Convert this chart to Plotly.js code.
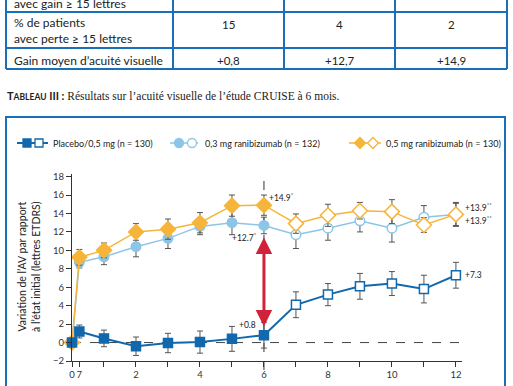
<!DOCTYPE html>
<html>
<head>
<meta charset="utf-8">
<script src="https://cdn.plot.ly/plotly-3.0.1.min.js"></script>
<style>html,body{margin:0;padding:0;background:#fff;}#chart{width:513px;height:386px;}</style>
</head>
<body>
<div id="chart"></div>
<script>
// ---------- data ----------
const months = [0, 0.23, 1, 2, 3, 4, 5, 6, 7, 8, 9, 10, 11, 12];
const xTickVals = [0, 0.23, 1, 2, 3, 4, 5, 6, 7, 8, 9, 10, 11, 12];
const xTickText = ['0', '7', '', '2', '', '4', '', '6', '', '8', '', '10', '', '12'];
const yTickVals = [-2, 0, 2, 4, 6, 8, 10, 12, 14, 16, 18];

const placebo    = [0, 1.2, 0.45, -0.4, -0.05, 0.05, 0.4, 0.8, 4.1, 5.2, 6.1, 6.4, 5.8, 7.3];
const placeboErr = [0, 0.7, 0.9, 1.0, 1.05, 1.2, 1.35, 1.4, 1.4, 1.2, 1.4, 1.3, 1.5, 1.4];
const ran03      = [0, 8.7, 9.3, 10.4, 11.3, 12.6, 13.0, 12.7, 11.7, 12.4, 13.2, 12.4, 13.6, 13.9];
const ran03Err   = [0, 0.6, 0.85, 1.1, 1.1, 0.9, 1.3, 0.9, 1.5, 1.3, 1.2, 1.5, 1.25, 1.3];
const ran05      = [0, 9.25, 10.0, 12.0, 12.3, 13.0, 14.85, 14.9, 12.9, 13.8, 14.3, 14.2, 12.75, 13.9];
const ran05Err   = [0, 0.85, 0.8, 0.9, 1.1, 1.1, 1.15, 1.1, 1.05, 1.2, 0.9, 1.3, 0.8, 1.2];

const seriesNames = ['Placebo/0,5 mg (n = 130)', '0,3 mg ranibizumab (n = 132)', '0,5 mg ranibizumab (n = 130)'];
const m6Labels  = ['+0.8', '+12.7<sup>*</sup>', '+14.9<sup>*</sup>'];
const endLabels = ['+7.3', '+13.9<sup>**</sup>', '+13.9<sup>**</sup>'];
const xTitleParts = ['J0 à M6', 'M6 à M12'];
const yTitle = "Variation de l’AV par rapport<br>à l’état initial (lettres ETDRS)";

const tableTopRow = 'avec gain ≥ 15 lettres';
const tableRowLabels = ['% de patients<br>avec perte ≥ 15 lettres', 'Gain moyen d’acuité visuelle'];
const tablePerte = ['15', '4', '2'];
const tableGain  = ['+0,8', '+12,7', '+14,9'];
const caption = '<span style="font-family:Lato;font-weight:bold;font-size:11px">T<span style="font-size:8.5px">ABLEAU</span> III :</span> Résultats sur l’acuité visuelle de l’étude CRUISE à 6 mois.';

// ---------- style ----------
const W = 513, H = 386;
const px = x => x / W;
const py = y => 1 - y / H;
const cDark = '#1268AC', cLight = '#8DC5E6', cOrange = '#F6B53A', cBorder = '#1A70B8', cRed = '#D0223A';
const colors = [cDark, cLight, cOrange];
const symbols = ['square', 'circle', 'diamond'];
const sizes = [9, 9.5, 11.5];
const widths = [2, 1.5, 1.5];
const lastFilledMonth = 6;
const FONT = 'Lato, "Open Sans", sans-serif';

const values = [placebo, ran03, ran05];
const errs = [placeboErr, ran03Err, ran05Err];

const traces = values.map((v, i) => ({
  x: months, y: v, type: 'scatter', mode: 'lines+markers', name: seriesNames[i],
  cliponaxis: false,
  line: {color: colors[i], width: widths[i]},
  marker: {
    symbol: symbols[i], size: sizes[i],
    color: months.map(m => m <= lastFilledMonth ? colors[i] : '#ffffff'),
    line: {color: colors[i], width: 1.5}
  },
  error_y: {type: 'data', array: errs[i], visible: true, color: '#555', thickness: 1, width: 3}
}));
const data = [traces[1], traces[2], traces[0]];

const shapes = [];
const annotations = [];

// table
const tCols = [6, 173, 284, 395, 507];
const tRows = [12, 48, 69];
tCols.forEach(x => shapes.push({type: 'line', xref: 'paper', yref: 'paper', x0: px(x), x1: px(x), y0: py(-5), y1: py(69), line: {color: cBorder, width: 2}}));
tRows.forEach(y => shapes.push({type: 'line', xref: 'paper', yref: 'paper', x0: px(6), x1: px(507), y0: py(y), y1: py(y), line: {color: cBorder, width: 2}}));
annotations.push({xref: 'paper', yref: 'paper', x: px(12), y: py(3), xanchor: 'left', yanchor: 'middle', showarrow: false, text: tableTopRow, font: {family: FONT, size: 12, color: '#222'}});
annotations.push({xref: 'paper', yref: 'paper', x: px(12), y: py(31), xanchor: 'left', yanchor: 'middle', align: 'left', showarrow: false, text: tableRowLabels[0], font: {family: FONT, size: 12, color: '#222'}});
annotations.push({xref: 'paper', yref: 'paper', x: px(12), y: py(60), xanchor: 'left', yanchor: 'middle', showarrow: false, text: tableRowLabels[1], font: {family: FONT, size: 12, color: '#222'}});
tablePerte.forEach((t, i) => annotations.push({xref: 'paper', yref: 'paper', x: px((tCols[i + 1] + tCols[i + 2]) / 2), y: py(24), xanchor: 'center', yanchor: 'middle', showarrow: false, text: t, font: {family: FONT, size: 11.5, color: '#222'}}));
tableGain.forEach((t, i) => annotations.push({xref: 'paper', yref: 'paper', x: px((tCols[i + 1] + tCols[i + 2]) / 2), y: py(60), xanchor: 'center', yanchor: 'middle', showarrow: false, text: t, font: {family: FONT, size: 11.5, color: '#222'}}));

// caption
annotations.push({xref: 'paper', yref: 'paper', x: px(5), y: py(95), xanchor: 'left', yanchor: 'middle', showarrow: false, text: caption, font: {family: '"Liberation Serif", "DejaVu Serif", serif', size: 11.5, color: '#222'}});

// chart box
shapes.push({type: 'rect', xref: 'paper', yref: 'paper', x0: px(6), x1: px(505), y0: py(410), y1: py(117), line: {color: cBorder, width: 2}, fillcolor: 'rgba(0,0,0,0)', layer: 'below'});

// legend (decoration)
const legendItems = [
  {l0: 17, l1: 48, f: 27, o: 39, t: 51},
  {l0: 170, l1: 198, f: 179, o: 192, t: 203},
  {l0: 349, l1: 381, f: 360, o: 373, t: 384}
];
const ly = 143;
function markerShape(kind, cx, cy, fill, col) {
  if (kind === 'square') return {type: 'rect', xref: 'paper', yref: 'paper', x0: px(cx - 4), x1: px(cx + 4), y0: py(cy + 4), y1: py(cy - 4), fillcolor: fill, line: {color: col, width: 1.3}};
  if (kind === 'circle') return {type: 'circle', xref: 'paper', yref: 'paper', x0: px(cx - 4.5), x1: px(cx + 4.5), y0: py(cy + 4.5), y1: py(cy - 4.5), fillcolor: fill, line: {color: col, width: 1.3}};
  const r = 5.5;
  return {type: 'path', xref: 'paper', yref: 'paper', path: `M ${px(cx)},${py(cy - r)} L ${px(cx + r)},${py(cy)} L ${px(cx)},${py(cy + r)} L ${px(cx - r)},${py(cy)} Z`, fillcolor: fill, line: {color: col, width: 1.3}};
}
legendItems.forEach((it, i) => {
  shapes.push({type: 'line', xref: 'paper', yref: 'paper', x0: px(it.l0), x1: px(it.l1), y0: py(ly), y1: py(ly), line: {color: colors[i], width: widths[i]}});
  shapes.push(markerShape(symbols[i], it.f, ly, colors[i], colors[i]));
  shapes.push(markerShape(symbols[i], it.o, ly, '#ffffff', colors[i]));
  annotations.push({xref: 'paper', yref: 'paper', x: px(it.t), y: py(ly), xanchor: 'left', yanchor: 'middle', showarrow: false, text: seriesNames[i], font: {family: FONT, size: 9, color: '#222'}});
});

// dashed zero line and month-6 line
shapes.push({type: 'line', xref: 'x', yref: 'y', x0: 0, x1: 12.19, y0: 0, y1: 0, line: {color: '#444', width: 1, dash: 'dash'}, layer: 'below'});
shapes.push({type: 'line', xref: 'x', yref: 'paper', x0: 6, x1: 6, y0: py(370), y1: py(172), line: {color: '#333', width: 1, dash: 'dash'}, layer: 'below'});

// red arrow between placebo and 0.3 mg at month 6
annotations.push({x: 6, y: placebo[7] + 0.95, ax: 6, ay: ran03[7] - 1.15, xref: 'x', yref: 'y', axref: 'x', ayref: 'y', text: '', showarrow: true, arrowhead: 2, startarrowhead: 2, arrowside: 'end+start', arrowsize: 1.1, startarrowsize: 1.1, arrowwidth: 3, arrowcolor: cRed, standoff: 0, startstandoff: 0});

// value labels
const labelFont = {family: FONT, size: 8.5, color: '#222'};
annotations.push({x: 6, y: placebo[7], xref: 'x', yref: 'y', text: m6Labels[0], showarrow: false, xanchor: 'right', yanchor: 'middle', xshift: -6, yshift: 10, font: labelFont});
annotations.push({x: 6, y: ran03[7], xref: 'x', yref: 'y', text: m6Labels[1], showarrow: false, xanchor: 'right', yanchor: 'middle', xshift: -5, yshift: -12, font: labelFont});
annotations.push({x: 6, y: ran05[7], xref: 'x', yref: 'y', text: m6Labels[2], showarrow: false, xanchor: 'left', yanchor: 'middle', xshift: 3, yshift: 8, font: labelFont});
annotations.push({x: 12, y: placebo[13], xref: 'x', yref: 'y', text: endLabels[0], showarrow: false, xanchor: 'left', yanchor: 'middle', xshift: 7, font: labelFont});
annotations.push({x: 12, y: ran05[13], xref: 'x', yref: 'y', text: endLabels[2], showarrow: false, xanchor: 'left', yanchor: 'middle', xshift: 7, yshift: 7, font: labelFont});
annotations.push({x: 12, y: ran03[13], xref: 'x', yref: 'y', text: endLabels[1], showarrow: false, xanchor: 'left', yanchor: 'middle', xshift: 7, yshift: -6, font: labelFont});

// y title
annotations.push({xref: 'paper', yref: 'paper', x: px(29), y: py(267), xanchor: 'center', yanchor: 'middle', textangle: -90, showarrow: false, text: yTitle, font: {family: FONT, size: 10.5, color: '#222'}});
// x period labels (cut at bottom edge)
annotations.push({xref: 'paper', yref: 'paper', x: px(165), y: py(382), xanchor: 'center', yanchor: 'top', showarrow: false, text: xTitleParts[0], font: {family: FONT, size: 10, color: '#222'}});
annotations.push({xref: 'paper', yref: 'paper', x: px(359), y: py(382), xanchor: 'center', yanchor: 'top', showarrow: false, text: xTitleParts[1], font: {family: FONT, size: 10, color: '#222'}});

const yTop = 174, yBot = 361, pxPerUnit = 9.22;
const layout = {
  width: W, height: H,
  margin: {l: 0, r: 0, t: 0, b: 0},
  paper_bgcolor: '#ffffff', plot_bgcolor: 'rgba(0,0,0,0)',
  showlegend: false,
  xaxis: {
    domain: [px(72), px(462)], range: [0, 12.19], anchor: 'y',
    tickmode: 'array', tickvals: xTickVals, ticktext: xTickText, tickangle: 0,
    ticks: 'outside', ticklen: 5, tickcolor: '#333', tickwidth: 1,
    showline: true, linecolor: '#333', linewidth: 1,
    showgrid: false, zeroline: false,
    tickfont: {family: FONT, size: 9.5, color: '#333'}, fixedrange: true
  },
  yaxis: {
    domain: [py(yBot), py(yTop)], range: [-2, -2 + (yBot - yTop) / pxPerUnit], anchor: 'x',
    tickmode: 'array', tickvals: yTickVals,
    ticks: 'outside', ticklen: 5, tickcolor: '#333', tickwidth: 1,
    showline: true, linecolor: '#333', linewidth: 1,
    showgrid: false, zeroline: false,
    tickfont: {family: FONT, size: 9.5, color: '#333'}, fixedrange: true
  },
  shapes: shapes,
  annotations: annotations
};

Plotly.newPlot('chart', data, layout, {displayModeBar: false, staticPlot: true});
</script>
</body>
</html>
